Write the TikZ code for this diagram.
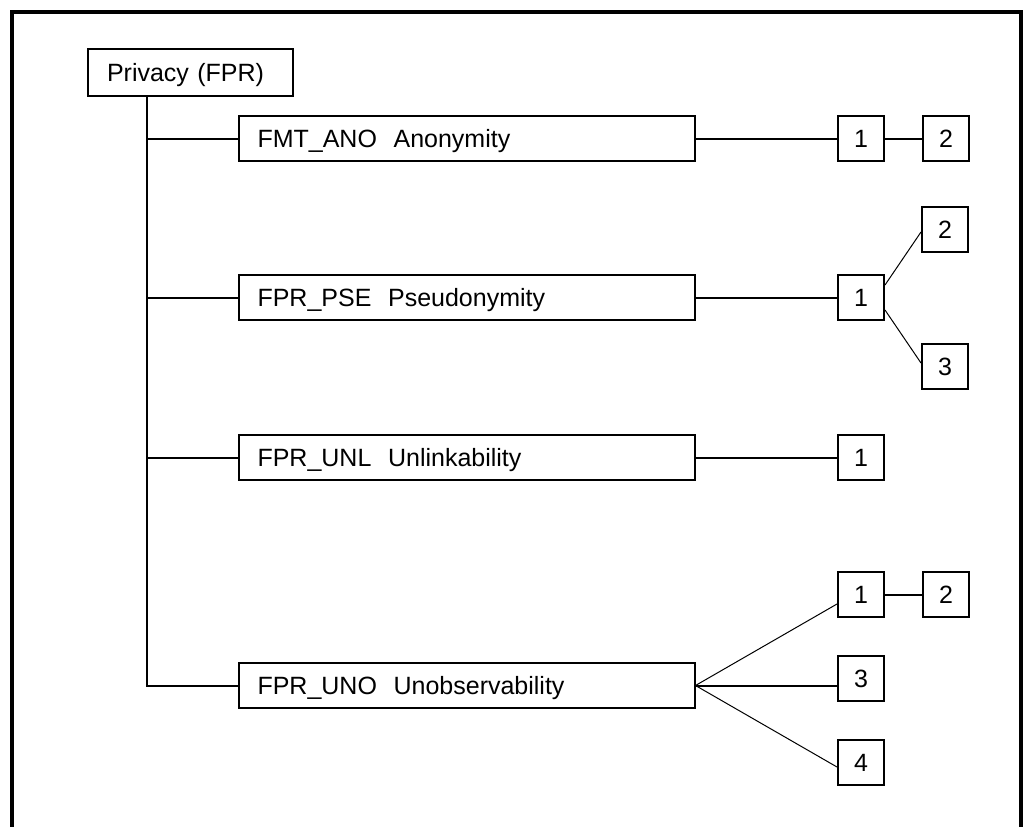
\documentclass[tikz,border=0pt]{standalone}
\usepackage{fontspec}
\setmainfont{Liberation Sans}
\begin{document}
\begin{tikzpicture}[x=1pt,y=-1pt,
  every node/.style={font=\fontsize{25}{30}\selectfont, text height=18pt, text depth=0pt},
  mainbox/.style={draw, line width=2pt, rectangle, minimum height=45pt, inner xsep=19pt, inner ysep=0pt, text width=418pt, align=left},
  privbox/.style={draw, line width=2pt, rectangle, minimum height=47pt, inner xsep=19pt, inner ysep=0pt, text width=167pt, align=left},
  numbox/.style={draw, line width=2pt, rectangle, minimum width=46pt, minimum height=45pt, inner sep=0pt},
  conn/.style={line width=2pt},
  thin conn/.style={line width=1pt}]
\useasboundingbox (0,0) rectangle (1023,827);
% frame
\draw[line width=4pt] (12,840) -- (12,11.5) -- (1020.5,11.5) -- (1020.5,840);
% nodes
\node[privbox] (priv) at (190.5,72.5) {Privacy (FPR)};
\node[mainbox] (ano) at (466.5,138.5) {FMT\_ANO\ \ Anonymity};
\node[mainbox] (pse) at (466.5,297.5) {FPR\_PSE\ \ Pseudonymity};
\node[mainbox] (unl) at (466.5,457.5) {FPR\_UNL\ \ Unlinkability};
\node[mainbox] (uno) at (466.5,685.5) {FPR\_UNO\ \ Unobservability};
\node[numbox] (r1a) at (861,138.5) {1};
\node[numbox] (r1b) at (946,138.5) {2};
\node[numbox] (r2a) at (861,297.5) {1};
\node[numbox] (r2b) at (945,229.5) {2};
\node[numbox] (r2c) at (945,366.5) {3};
\node[numbox] (r3a) at (861,457.5) {1};
\node[numbox] (r4a) at (861,594.5) {1};
\node[numbox] (r4b) at (946,594.5) {2};
\node[numbox] (r4c) at (861,678.5) {3};
\node[numbox] (r4d) at (861,762.5) {4};
\coordinate (trunk) at (147,0);
% trunk and branches
\draw[conn] (priv.south -| trunk) -- (uno.west -| trunk) -- (uno.west);
\draw[conn] (ano.west -| trunk) -- (ano.west);
\draw[conn] (pse.west -| trunk) -- (pse.west);
\draw[conn] (unl.west -| trunk) -- (unl.west);
% row 1
\draw[conn] (ano.east) -- (r1a.west);
\draw[conn] (r1a.east) -- (r1b.west);
% row 2
\draw[conn] (pse.east) -- (r2a.west);
\draw[thin conn] ([yshift=12.5pt]r2a.east) -- ([yshift=-2.5pt]r2b.west);
\draw[thin conn] ([yshift=-12.5pt]r2a.east) -- ([yshift=3.5pt]r2c.west);
% row 3
\draw[conn] (unl.east) -- (r3a.west);
% row 4
\draw[thin conn] (uno.east) -- ([yshift=-9.5pt]r4a.west);
\draw[conn] (uno.east) -- (uno.east -| r4c.west);
\draw[thin conn] (uno.east) -- ([yshift=-4.5pt]r4d.west);
\draw[conn] (r4a.east) -- (r4b.west);
\end{tikzpicture}
\end{document}
